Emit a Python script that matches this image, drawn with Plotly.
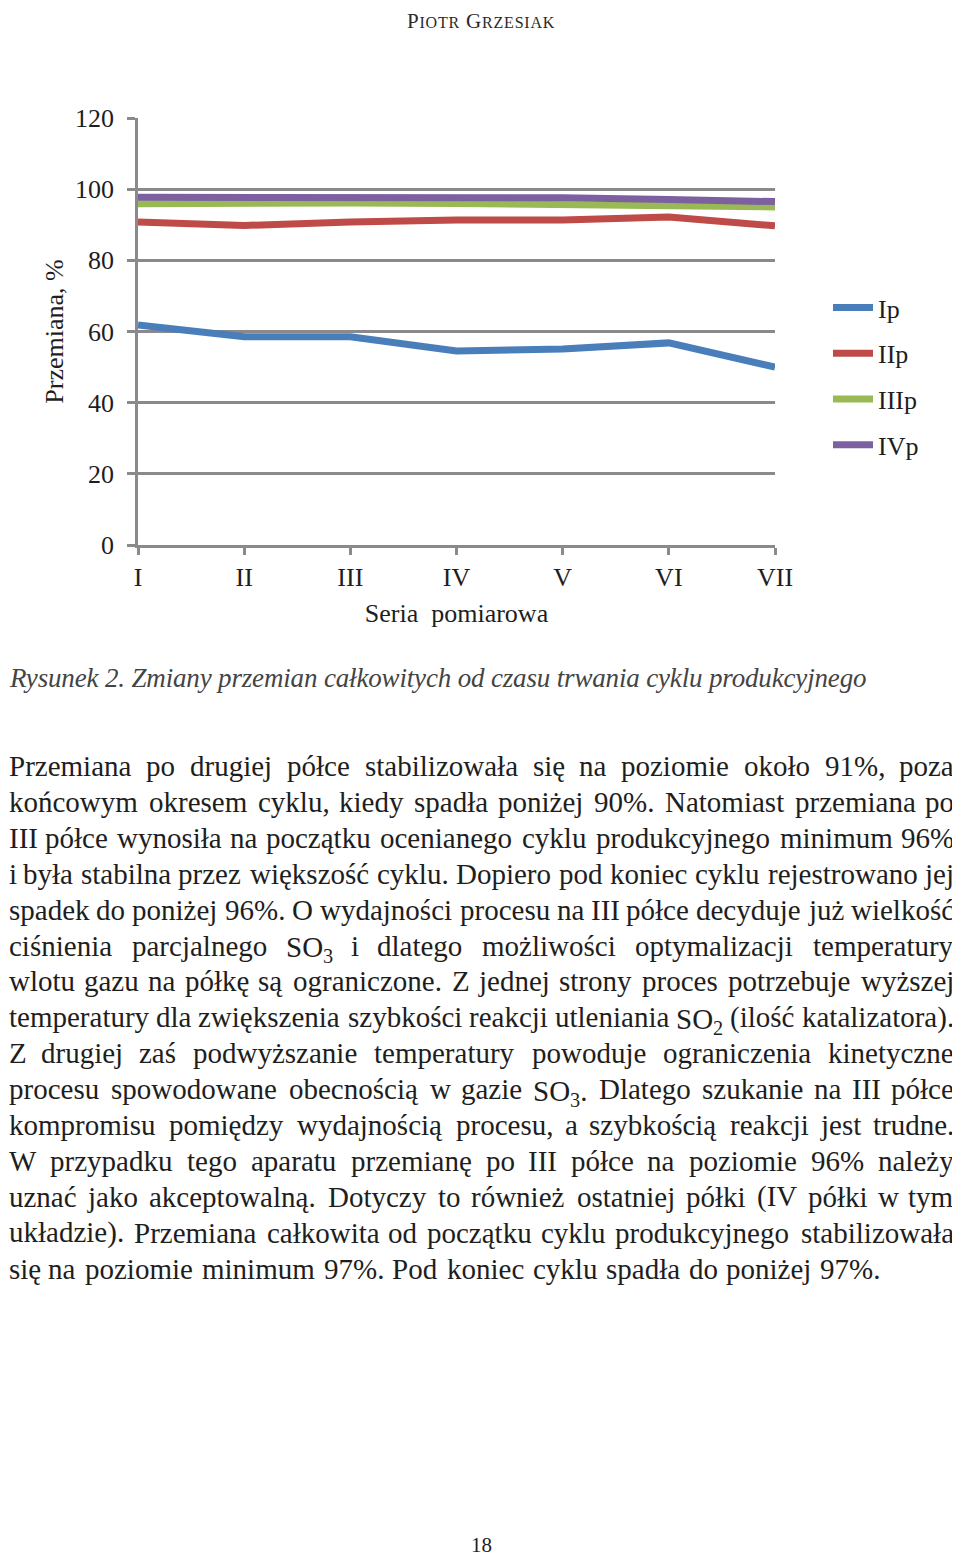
import glob
import struct
import plotly.graph_objects as go

# ---------------- data ----------------
categories = ["I", "II", "III", "IV", "V", "VI", "VII"]
series_names = ["Ip", "IIp", "IIIp", "IVp"]
ip_values = [61.8, 58.5, 58.5, 54.5, 55.1, 56.8, 50.0]
iip_values = [90.8, 89.8, 90.8, 91.3, 91.3, 92.2, 89.7]
iiip_values = [95.9, 96.1, 96.1, 96.0, 95.8, 95.4, 95.0]
ivp_values = [97.7, 97.7, 97.7, 97.7, 97.6, 97.1, 96.5]
y_ticks = [0, 20, 40, 60, 80, 100, 120]

header_caps = [("P", "IOTR"), ("G", "RZESIAK")]
caption_text = "Rysunek 2. Zmiany przemian całkowitych od czasu trwania cyklu produkcyjnego"
paragraph_lines = [
    "Przemiana po drugiej półce stabilizowała się na poziomie około 91%, poza",
    "końcowym okresem cyklu, kiedy spadła poniżej 90%. Natomiast przemiana po",
    "III półce wynosiła na początku ocenianego cyklu produkcyjnego minimum 96%",
    "i była stabilna przez większość cyklu. Dopiero pod koniec cyklu rejestrowano jej",
    "spadek do poniżej 96%. O wydajności procesu na III półce decyduje już wielkość",
    "ciśnienia parcjalnego SO<sub>3</sub> i dlatego możliwości optymalizacji temperatury",
    "wlotu gazu na półkę są ograniczone. Z jednej strony proces potrzebuje wyższej",
    "temperatury dla zwiększenia szybkości reakcji utleniania SO<sub>2</sub> (ilość katalizatora).",
    "Z drugiej zaś podwyższanie temperatury powoduje ograniczenia kinetyczne",
    "procesu spowodowane obecnością w gazie SO<sub>3</sub>. Dlatego szukanie na III półce",
    "kompromisu pomiędzy wydajnością procesu, a szybkością reakcji jest trudne.",
    "W przypadku tego aparatu przemianę po III półce na poziomie 96% należy",
    "uznać jako akceptowalną. Dotyczy to również ostatniej półki (IV półki w tym",
    "układzie). Przemiana całkowita od początku cyklu produkcyjnego stabilizowała",
    "się na poziomie minimum 97%. Pod koniec cyklu spadła do poniżej 97%.",
]
page_number = "18"

# ---------------- styling ----------------
# the page body has an 8px margin, so the figure starts at page (8, 8)
OFF = 8
W, H = 960 - OFF, 1558 - OFF
PLOT_L, PLOT_R, PLOT_T, PLOT_B = 138, 775, 118, 545   # page pixels
SERIF = "Liberation Serif"
AXIS_COLOR = "#8a8a8a"
TEXT_COLOR = "#1e1e1e"
colors = ["#4a7ebb", "#be4b48", "#98b954", "#7d60a0"]


def px(x):
    return (x - PLOT_L) / (PLOT_R - PLOT_L)


def py(y):
    return (PLOT_B - y) / (PLOT_B - PLOT_T)


# ---------- font metrics (used to lay out justified words) ----------
def load_font(name):
    paths = []
    for root in ("/usr/share/fonts", "/usr/local/share/fonts"):
        paths += glob.glob(root + "/**/" + name, recursive=True)
    if not paths:
        return None
    try:
        data = open(paths[0], "rb").read()
        n = struct.unpack(">H", data[4:6])[0]
        tabs = {}
        for i in range(n):
            tag, _, off, ln = struct.unpack(">4sIII", data[12 + 16 * i:28 + 16 * i])
            tabs[tag.decode("latin1")] = off
        upm = struct.unpack(">H", data[tabs["head"] + 18:tabs["head"] + 20])[0]
        nhm = struct.unpack(">H", data[tabs["hhea"] + 34:tabs["hhea"] + 36])[0]
        hm = tabs["hmtx"]
        cm = tabs["cmap"]
        nsub = struct.unpack(">H", data[cm + 2:cm + 4])[0]
        sub = None
        for i in range(nsub):
            pid, eid, off = struct.unpack(">HHI", data[cm + 4 + 8 * i:cm + 12 + 8 * i])
            fmt = struct.unpack(">H", data[cm + off:cm + off + 2])[0]
            if fmt == 4 and (pid == 3 or pid == 0):
                sub = cm + off
                break
        o = sub
        segx2 = struct.unpack(">H", data[o + 6:o + 8])[0]
        seg = segx2 // 2
        ends = struct.unpack(">%dH" % seg, data[o + 14:o + 14 + segx2])
        starts = struct.unpack(">%dH" % seg, data[o + 16 + segx2:o + 16 + 2 * segx2])
        deltas = struct.unpack(">%dh" % seg, data[o + 16 + 2 * segx2:o + 16 + 3 * segx2])
        rpos = o + 16 + 3 * segx2
        roffs = struct.unpack(">%dH" % seg, data[rpos:rpos + segx2])

        def gid(c):
            for i in range(seg):
                if ends[i] >= c:
                    if starts[i] > c:
                        return 0
                    if roffs[i] == 0:
                        return (c + deltas[i]) & 0xFFFF
                    addr = rpos + 2 * i + roffs[i] + 2 * (c - starts[i])
                    g = struct.unpack(">H", data[addr:addr + 2])[0]
                    return 0 if g == 0 else (g + deltas[i]) & 0xFFFF
            return 0

        cache = {}

        def adv(ch):
            if ch not in cache:
                g = gid(ord(ch))
                if g >= nhm:
                    g = nhm - 1
                cache[ch] = struct.unpack(">H", data[hm + 4 * g:hm + 4 * g + 2])[0] / upm
            return cache[ch]
        return adv
    except Exception:
        return None


regular = load_font("LiberationSerif-Regular.ttf") or (lambda ch: 0.25 if ch == " " else 0.46)
italic = load_font("LiberationSerif-Italic.ttf") or (lambda ch: 0.25 if ch == " " else 0.42)
K = 1.02  # safety factor for rendered widths


def segments(s):
    out = []
    rest = s
    while "<sub>" in rest:
        a, b = rest.split("<sub>", 1)
        sb, rest = b.split("</sub>", 1)
        out.append((a, 1.0))
        out.append((sb, 0.7))
    out.append((rest, 1.0))
    return out


def measure(s, size, adv):
    w, n = 0.0, 0
    for t, k in segments(s):
        for ch in t:
            w += adv(ch) * size * k
            n += 1
    return w * K, n


# ---------------- figure ----------------
fig = go.Figure()
for name, vals, col in zip(series_names, [ip_values, iip_values, iiip_values, ivp_values], colors):
    fig.add_trace(go.Scatter(
        x=categories, y=vals, name=name, mode="lines",
        line=dict(color=col, width=7), legendgroup=name,
    ))

axis_font = dict(family=SERIF, size=26, color=TEXT_COLOR)
fig.update_layout(
    width=W, height=H,
    margin=dict(l=PLOT_L - OFF, r=W - (PLOT_R - OFF), t=PLOT_T - OFF, b=H - (PLOT_B - OFF), pad=0),
    paper_bgcolor="white", plot_bgcolor="white",
    font=axis_font,
    showlegend=True,
    legend=dict(
        x=px(828), y=py(284), xanchor="left", yanchor="top",
        font=dict(family=SERIF, size=26, color=TEXT_COLOR),
        tracegroupgap=9, bgcolor="rgba(0,0,0,0)", itemwidth=40,
    ),
    xaxis=dict(
        type="category", categoryorder="array", categoryarray=categories,
        range=[0, len(categories) - 1],
        showgrid=False, zeroline=False,
        showline=True, linecolor=AXIS_COLOR, linewidth=2.5,
        ticks="outside", ticklen=7, tickwidth=2.5, tickcolor=AXIS_COLOR,
        tickfont=axis_font, ticklabelstandoff=0,
        title=dict(text="Seria  pomiarowa", font=axis_font, standoff=13),
        automargin=False,
    ),
    yaxis=dict(
        range=[0, 120], tickvals=y_ticks,
        showgrid=True, gridcolor=AXIS_COLOR, gridwidth=2.5,
        zeroline=False,
        showline=True, linecolor=AXIS_COLOR, linewidth=2.5,
        ticks="outside", ticklen=8, tickwidth=2.5, tickcolor=AXIS_COLOR,
        tickfont=axis_font, ticklabelstandoff=8,
        title=dict(text="Przemiana, %", font=axis_font, standoff=4),
        automargin=False,
    ),
)

annotations = []

# header in small caps (box kept inside the page top)
hdr_parts = []
for big, small in header_caps:
    hdr_parts.append("<span style='font-size:21px'>%s</span><span style='font-size:16px'>%s</span>" % (big, small))
annotations.append(dict(
    text="<span style='letter-spacing:0.8px'>%s</span>" % " ".join(hdr_parts),
    x=px(481), y=py(OFF), xref="paper", yref="paper",
    xanchor="center", yanchor="top", showarrow=False, borderpad=0,
    font=dict(family=SERIF, size=21, color="#2a2a2a"),
))

# caption
LEFT = OFF
CAP_SIZE = 27
cw_raw = sum(italic(ch) * CAP_SIZE for ch in caption_text)
cap_ls = (866 - LEFT - cw_raw) / max(len(caption_text) - 1, 1)
annotations.append(dict(
    text="<i><span style='letter-spacing:%.2fpx'>%s</span></i>" % (cap_ls, caption_text),
    x=px(LEFT), y=py(678), xref="paper", yref="paper",
    xanchor="left", yanchor="middle", align="left", showarrow=False, borderpad=0,
    font=dict(family=SERIF, size=CAP_SIZE, color="#444444"),
))

# paragraph: justified, each word placed on its own
RIGHT = 955
TARGET = RIGHT - LEFT
PAR_SIZE = 31.0
while True:
    ok = True
    for s in paragraph_lines[:-1]:
        words = s.split(" ")
        tot = sum(measure(wd, PAR_SIZE, regular)[0] for wd in words)
        gap = (TARGET - tot) / (len(words) - 1)
        if gap < 0.17 * PAR_SIZE:
            ok = False
            break
    if ok or PAR_SIZE <= 20:
        break
    PAR_SIZE -= 0.25

line_y0, line_dy = 766, 35.9
for i, s in enumerate(paragraph_lines):
    words = s.split(" ")
    widths = [measure(wd, PAR_SIZE, regular)[0] for wd in words]
    last = i == len(paragraph_lines) - 1
    if last:
        gap = regular(" ") * PAR_SIZE * K
    else:
        gap = (TARGET - sum(widths)) / (len(words) - 1)
    x = LEFT
    yv = py(line_y0 + i * line_dy)
    for j, (wd, ww) in enumerate(zip(words, widths)):
        if j == 0:
            xa, xpos = "left", x
        elif j == len(words) - 1 and not last:
            xa, xpos = "right", RIGHT
        else:
            xa, xpos = "center", x + ww / 2
        annotations.append(dict(
            text=wd, x=px(xpos), y=yv, xref="paper", yref="paper",
            xanchor=xa, yanchor="middle", align="left", showarrow=False, borderpad=0,
            yshift=-3.5 if "<sub>" in wd else 0,
            font=dict(family=SERIF, size=PAR_SIZE, color=TEXT_COLOR),
        ))
        x += ww + gap

# page number
annotations.append(dict(
    text=page_number, x=px(481), y=py(1545), xref="paper", yref="paper",
    xanchor="center", yanchor="middle", showarrow=False, borderpad=0,
    font=dict(family=SERIF, size=21, color=TEXT_COLOR),
))

fig.update_layout(annotations=annotations)
fig.write_html("out.html")
